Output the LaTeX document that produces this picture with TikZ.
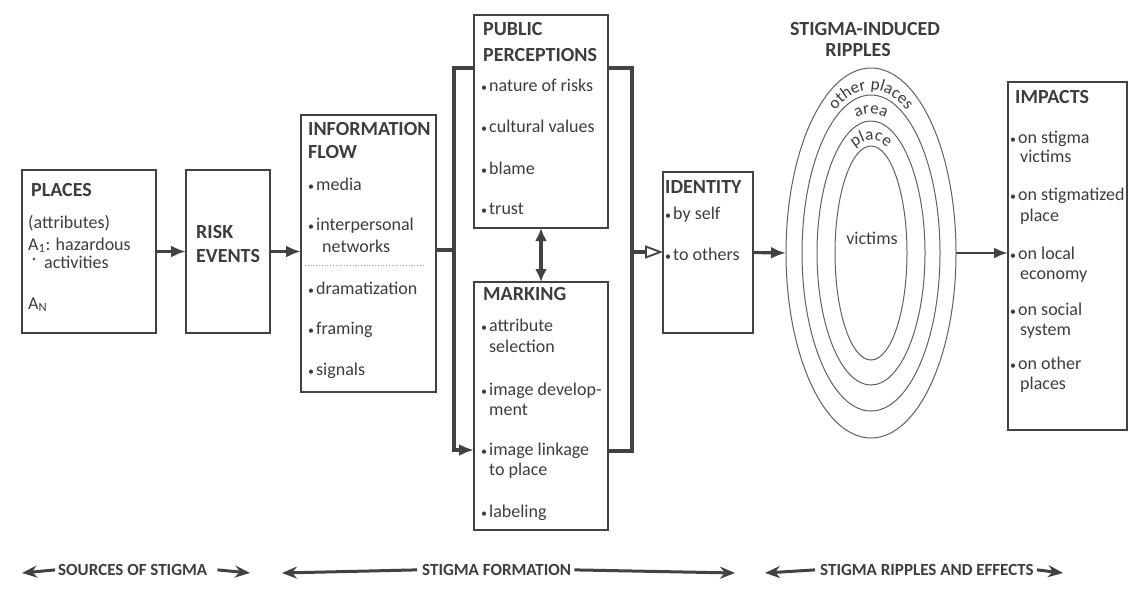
\documentclass[tikz,border=0pt]{standalone}
\usepackage{fontspec}
\setmainfont{Carlito}
\usetikzlibrary{arrows.meta,shapes.geometric,decorations.text}

\definecolor{ink}{gray}{0.24}
\definecolor{rule}{gray}{0.26}
\definecolor{ringc}{gray}{0.38}

% small bullet followed by a fixed gap
\newcommand{\bul}{\makebox[8pt][l]{\fontsize{12}{12}\selectfont\textbullet}}

\begin{document}
\begin{tikzpicture}[x=1pt,y=-1pt,
  box/.style={draw=rule,line width=1.5pt,rectangle,inner sep=0pt,outer sep=0pt},
  ring/.style={draw=ringc,line width=1pt,ellipse,inner sep=0pt,outer sep=0pt},
  head/.style={font=\fontsize{20}{22}\selectfont\bfseries,text=ink,inner sep=0pt,anchor=mid west},
  item/.style={font=\fontsize{18}{20}\selectfont,text=ink,inner sep=0pt,anchor=mid west},
  band/.style={font=\fontsize{17}{20}\selectfont\bfseries,text=ink,inner sep=0pt,anchor=mid west},
  link/.style={draw=rule,line width=3.2pt},
  flow/.style={link,-{Latex[length=15pt,width=12pt]}},
  slimflow/.style={draw=rule,line width=2.8pt,-{Latex[length=14pt,width=11pt]}},
  hollow/.style={link,-{Triangle[open,length=18pt,width=13pt,line width=1.8pt]}},
  twoway/.style={link,{Latex[length=13pt,width=12pt]}-{Latex[length=13pt,width=12pt]}},
  span/.style={draw=rule,line width=3pt,-{Stealth[length=15pt,width=12pt]}},
  arclabel/.style={decorate,decoration={text along path,text align=center,text color=ink}},
  speck/.style={circle,fill=ink,inner sep=0pt,minimum size=2.6pt}
]
\useasboundingbox (0,0) rectangle (1134,598);
\fill[white] (0,0) rectangle (1134,598);

% ---- boxes ----
\node[box,minimum width=134,minimum height=163] (places)  at (89,251.5) {};
\node[box,minimum width=84, minimum height=163] (risk)    at (228,251.5) {};
\node[box,minimum width=135,minimum height=277] (info)    at (368.5,253.5) {};
\node[box,minimum width=134,minimum height=213] (pp)      at (541,121.5) {};
\node[box,minimum width=134,minimum height=248] (marking) at (541,406) {};
\node[box,minimum width=90, minimum height=161] (ident)   at (708,252.5) {};
\node[box,minimum width=119,minimum height=348] (impacts) at (1067.5,256) {};

% ---- ripples ----
\node[ring,minimum width=170,minimum height=370] (outer) at (871,253) {};
\node[ring,minimum width=138,minimum height=316] (ring2) at (871,253) {};
\node[ring,minimum width=108,minimum height=264] (ring3) at (871,253) {};
\node[ring,minimum width=72, minimum height=214] (inner) at (871,253) {};

% ---- places ----
\node[head] (plH) at (31,194) {PLACES};
\node[item] (pl1) at (28,226) {(attributes)};
\node[item] (pl2) at (28,248) {A\textsubscript{1}: hazardous};
\node[speck] (pl3) at (34,259) {};
\node[item] (pl4) at (44,266) {activities};
\node[item] (pl5) at (28,307) {A\textsubscript{N}};

% ---- risk events ----
\node[head] (rkH1) at (196,236.5) {RISK};
\node[head] (rkH2) at (196,260) {EVENTS};

% ---- information flow ----
\node[head] (ifH1) at (308,133.5) {INFORMATION};
\node[head] (ifH2) at (308,156.5) {FLOW};
\node[item] (if1) at (308,188) {\bul media};
\node[item] (if2) at (308,228) {\bul interpersonal};
\node[item] (if3) at (322,250) {networks};
\node[item] (if4) at (308,292) {\bul dramatization};
\node[item] (if5) at (308,332) {\bul framing};
\node[item] (if6) at (308,373) {\bul signals};
\coordinate (dotA) at (305,265);
\coordinate (dotB) at (424,265);
\draw[ringc!60,line width=0.8pt,dotted] (dotA) -- (dotB);

% ---- public perceptions ----
\node[head] (ppH1) at (483,33.5) {PUBLIC};
\node[head] (ppH2) at (483,59) {PERCEPTIONS};
\node[item] (pp1) at (481,89) {\bul nature of risks};
\node[item] (pp2) at (481,130) {\bul cultural values};
\node[item] (pp3) at (481,172) {\bul blame};
\node[item] (pp4) at (481,212) {\bul trust};

% ---- marking ----
\node[head] (mkH) at (483,298.5) {MARKING};
\node[item] (mk1) at (481,329) {\bul attribute};
\node[item] (mk2) at (489,350) {selection};
\node[item] (mk3) at (481,393) {\bul image develop-};
\node[item] (mk4) at (489,413) {ment};
\node[item] (mk5) at (481,453) {\bul image linkage};
\node[item] (mk6) at (489,473) {to place};
\node[item] (mk7) at (481,515) {\bul labeling};

% ---- identity ----
\node[head] (idH) at (665,191.5) {IDENTITY};
\node[item] (id1) at (665,217) {\bul by self};
\node[item] (id2) at (665,258) {\bul to others};

% ---- ripples labels ----
\node[head,anchor=mid] (rpH1) at (865,33) {STIGMA-INDUCED};
\node[head,anchor=mid] (rpH2) at (858,54) {RIPPLES};
\node[item,anchor=mid] (vict) at (872,242) {victims};
\path[arclabel,decoration={text={|\fontsize{17}{17}\selectfont|other places}}]
  ([shift={(871,253)}]205:74 and 163) arc[start angle=205,end angle=335,x radius=74,y radius=163];
\path[arclabel,decoration={text={|\fontsize{17}{17}\selectfont|area}}]
  ([shift={(871,253)}]220:61 and 139) arc[start angle=220,end angle=320,x radius=61,y radius=139];
\path[arclabel,decoration={text={|\fontsize{17}{17}\selectfont|place}}]
  ([shift={(871,253)}]215:45 and 113) arc[start angle=215,end angle=325,x radius=45,y radius=113];

% ---- impacts ----
\node[head] (imH) at (1015,101) {IMPACTS};
\node[item] (im1) at (1010,141) {\bul on stigma};
\node[item] (im2) at (1020,160) {victims};
\node[item] (im3) at (1010,198) {\bul on stigmatized};
\node[item] (im4) at (1020,219) {place};
\node[item] (im5) at (1010,257) {\bul on local};
\node[item] (im6) at (1020,277) {economy};
\node[item] (im7) at (1010,313) {\bul on social};
\node[item] (im8) at (1020,333) {system};
\node[item] (im9) at (1010,367) {\bul on other};
\node[item] (im10) at (1020,387) {places};

% ---- connectors ----
\coordinate (splitM) at (454,250);
\coordinate (lt) at (454,68);
\coordinate (lb) at (454,450);
\coordinate (rt) at (632,68);
\coordinate (rb) at (632,451);
\coordinate (rm) at (632,252);

\draw[flow] (places.east) -- (risk.west);
\draw[flow] (risk.east) -- (risk.east -| info.west);
\draw[link] (info.east |- splitM) -- (splitM);
\draw[flow] (pp.west |- lt) -- (lt) -- (lb) -- (lb -| marking.west);
\draw[link] (pp.east |- rt) -- (rt) -- (rb) -- (rb -| marking.east);
\draw[hollow] (rm) -- (rm -| ident.west);
\draw[twoway] (pp.south) -- (marking.north);
\draw[flow] (ident.east) -- (outer.west);
\draw[slimflow] (outer.east) -- (outer.east -| impacts.west);

% ---- phase bands ----
\node[band] (src) at (58,573) {SOURCES OF STIGMA};
\coordinate (srcA) at (22,573);
\coordinate (srcB) at (250,573);
\draw[span] ([xshift=-3pt]src.west) -- (srcA);
\draw[span] ([xshift=10pt]src.east) -- (srcB);

\node[band] (form) at (422,573) {STIGMA FORMATION};
\coordinate (formA) at (282,573);
\coordinate (formB) at (735,573);
\draw[span] ([xshift=-5pt]form.west) -- (formA);
\draw[span] ([xshift=3pt]form.east) -- (formB);

\node[band] (ripp) at (820,573) {STIGMA RIPPLES AND EFFECTS};
\coordinate (rippA) at (765,573);
\coordinate (rippB) at (1063,573);
\draw[span] ([xshift=-5pt]ripp.west) -- (rippA);
\draw[span] ([xshift=3pt]ripp.east) -- (rippB);
\end{tikzpicture}
\end{document}
